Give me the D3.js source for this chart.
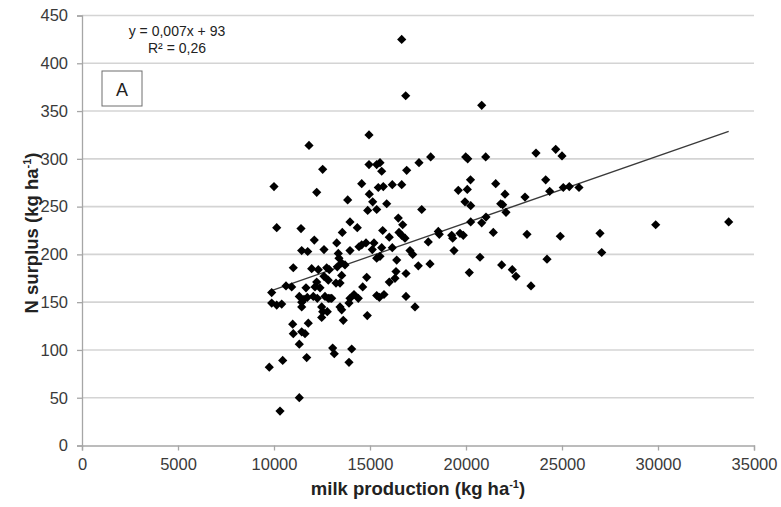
<!DOCTYPE html>
<html>
<head>
<meta charset="utf-8">
<script src="https://cdn.jsdelivr.net/npm/d3@7"></script>
<style>
  html, body { margin: 0; padding: 0; background: #fff; }
  svg { display: block; font-family: "Liberation Sans", Arial, sans-serif; }
</style>
</head>
<body>
<svg id="chart" width="781" height="507"></svg>
<script>
// milk production (kg ha-1)
const milkProduction = [
  16651,16859,20818,11823,14948,12536,14948,15349,15521,15609,16911,17552,18161,19984,20089,21026,20234,
  23646,24672,25000,21547,22031,24151,24359,25068,25380,25885,23073,21807,21911,22083,21042,20818,20245,
  21422,23177,24911,26979,29880,33682,27068,20729,24219,21859,22411,22604,23385,10000,12224,14568,14964,
  15432,15693,16161,16651,13838,15140,14880,15349,15870,17693,19599,20068,19948,20245,16474,16703,13958,
  14338,11406,10141,13557,13266,15661,16005,16510,16651,16823,12099,12604,11442,11755,13349,13385,13526,
  13698,13297,13958,14427,14568,14792,15208,15120,15609,15349,15521,16161,16391,17083,17224,17516,18125,
  18036,18557,18609,19255,19307,19687,19859,19375,20172,11005,10625,10922,9880,9880,10141,10401,11318,
  11443,11562,11734,12047,11667,12224,12396,11963,12307,12745,12880,12604,12828,12135,12255,11443,12656,
  12828,13005,12484,12536,12776,12484,13229,13438,13526,13438,13526,13609,13958,14167,13906,14391,14620,
  14828,14859,15349,15729,16005,16302,16354,16875,16875,17344,10974,11005,11786,11443,11615,11318,11703,
  10453,9755,13057,13140,14047,13906,11318,10313,12917,15486
];
// N surplus (kg ha-1)
const nSurplus = [
  425,366,356,314,325,289,294,294,296,287,288,296,302,302,300,302,278,
  306,310,303,274,263,278,266,270,271,270,260,253,252,244,239,233,234,
  223,221,219,222,231,234,202,197,195,189,184,177,167,271,265,274,263,
  270,271,273,273,257,255,246,247,253,247,267,268,255,251,238,231,234,
  228,227,228,223,212,225,218,223,220,217,215,205,204,203,201,196,191,
  189,187,204,208,210,212,212,205,207,196,198,207,194,204,200,188,190,
  213,224,221,220,217,222,220,204,181,186,167,166,160,149,147,148,156,
  150,153,155,156,165,171,165,185,184,186,184,177,173,166,154,145,156,
  154,154,145,140,140,134,170,170,178,145,142,131,154,158,149,154,166,
  176,136,157,158,171,175,182,180,156,145,127,117,128,119,117,106,92,
  89,82,102,96,101,87,50,36,154,155
];
const xTicks = [0,5000,10000,15000,20000,25000,30000,35000];
const yTicks = [0,50,100,150,200,250,300,350,400,450];
const trendSlope = 0.007, trendIntercept = 93;
const trendRange = [9755, 33682];
const equationLines = ["y = 0,007x + 93", "R² = 0,26"];
const panelLabel = "A";

const svg = d3.select("#chart");
const x = d3.scaleLinear().domain([0, 35000]).range([82, 754]);
const y = d3.scaleLinear().domain([0, 450]).range([445.5, 15.5]);

// gridlines
svg.append("g").selectAll("line").data(yTicks.filter(d => d > 0)).join("line")
  .attr("x1", x(0)).attr("x2", x(35000))
  .attr("y1", d => y(d)).attr("y2", d => y(d))
  .attr("stroke", "#d4d4d4").attr("stroke-width", 1.6);

// axes
const xAxis = svg.append("g").attr("transform", `translate(0,${y(0)})`)
  .call(d3.axisBottom(x).tickValues(xTicks).tickFormat(d3.format("d")).tickSize(5).tickPadding(8));
const yAxis = svg.append("g").attr("transform", `translate(${x(0)},0)`)
  .call(d3.axisLeft(y).tickValues(yTicks).tickSize(5).tickPadding(9));
[xAxis, yAxis].forEach(g => {
  g.select(".domain").attr("stroke", "#a6a6a6").attr("stroke-width", 1.3);
  g.selectAll(".tick line").attr("stroke", "#a6a6a6").attr("stroke-width", 1.3);
  g.selectAll(".tick text").attr("fill", "#3a3a3a")
    .style("font-size", "16.5px").style("font-family", "'Liberation Sans', Arial, sans-serif");
});

// trendline
svg.append("line")
  .attr("x1", x(trendRange[0])).attr("y1", y(trendSlope * trendRange[0] + trendIntercept))
  .attr("x2", x(trendRange[1])).attr("y2", y(trendSlope * trendRange[1] + trendIntercept))
  .attr("stroke", "#3a3a3a").attr("stroke-width", 1.3);

// points (diamonds)
const pts = milkProduction.map((m, i) => [m, nSurplus[i]]);
svg.append("g").selectAll("path").data(pts).join("path")
  .attr("transform", d => `translate(${x(d[0])},${y(d[1])})`)
  .attr("d", "M0,-4.6L4.6,0L0,4.6L-4.6,0Z")
  .attr("fill", "#000");

// equation
svg.append("g").selectAll("text").data(equationLines).join("text")
  .attr("x", 177).attr("y", (d, i) => 36 + i * 16.5)
  .attr("text-anchor", "middle").attr("fill", "#222")
  .style("font-size", "14px").text(d => d);

// panel label box
svg.append("rect").attr("x", 102).attr("y", 71).attr("width", 40).attr("height", 35)
  .attr("fill", "#fff").attr("stroke", "#6e6e6e").attr("stroke-width", 1);
svg.append("text").attr("x", 122).attr("y", 95.5).attr("text-anchor", "middle")
  .attr("fill", "#222").style("font-size", "18px").text(panelLabel);

// axis titles
const xt = svg.append("text").attr("x", 418).attr("y", 495).attr("text-anchor", "middle")
  .attr("fill", "#222").style("font-size", "18.5px").style("font-weight", "bold");
xt.append("tspan").text("milk production (kg ha");
xt.append("tspan").attr("dy", -7).style("font-size", "11px").text("-1");
xt.append("tspan").attr("dy", 7).text(")");

const yt = svg.append("text").attr("transform", "translate(38,233) rotate(-90)")
  .attr("text-anchor", "middle").attr("fill", "#222")
  .style("font-size", "18.5px").style("font-weight", "bold");
yt.append("tspan").text("N surplus (kg ha");
yt.append("tspan").attr("dy", -7).style("font-size", "11px").text("-1");
yt.append("tspan").attr("dy", 7).text(")");
</script>
</body>
</html>
